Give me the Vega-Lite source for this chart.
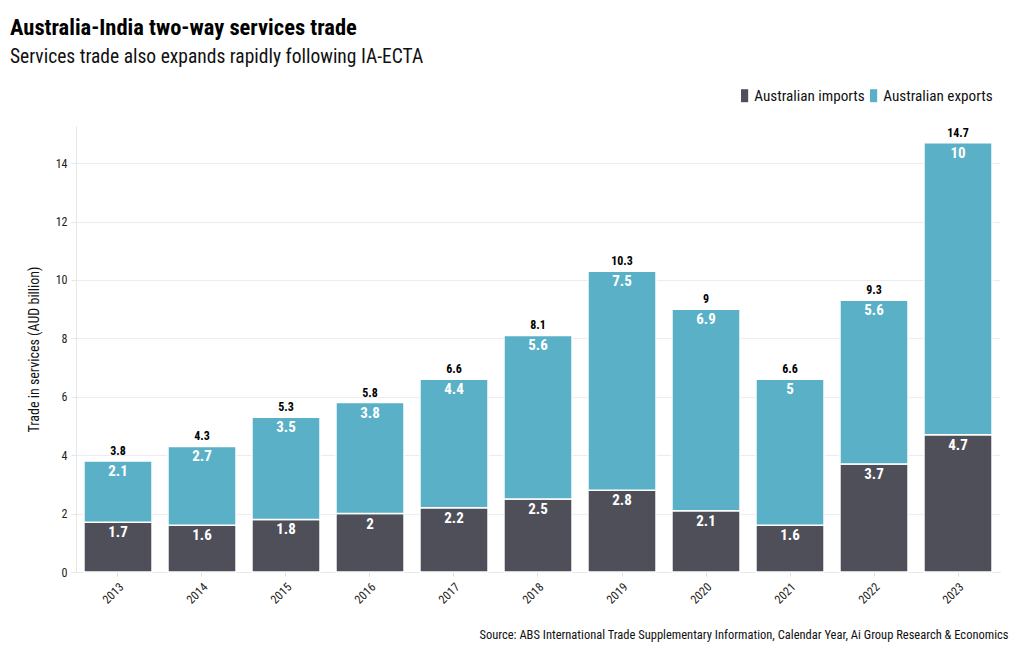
{
  "$schema": "https://vega.github.io/schema/vega-lite/v6.json",
  "width": 924,
  "height": 446,
  "padding": {"left": 10, "right": 8, "top": 17, "bottom": 8},
  "background": "white",
  "title": {
    "text": "Australia-India two-way services trade",
    "subtitle": "Services trade also expands rapidly following IA-ECTA",
    "anchor": "start",
    "frame": "group",
    "dx": -66,
    "font": "Roboto Condensed, Liberation Sans Narrow, Roboto, sans-serif",
    "fontSize": 22.5,
    "fontWeight": "bold",
    "color": "#000000",
    "subtitleFont": "Roboto Condensed, Liberation Sans Narrow, Roboto, sans-serif",
    "subtitleFontSize": 19.5,
    "subtitleColor": "#111111",
    "subtitlePadding": 8,
    "offset": 22
  },
  "config": {
    "font": "Roboto Condensed, Liberation Sans Narrow, Roboto, sans-serif",
    "view": {"stroke": null},
    "axis": {"labelFont": "Roboto Condensed, Liberation Sans Narrow, Roboto, sans-serif", "titleFont": "Roboto Condensed, Liberation Sans Narrow, Roboto, sans-serif"}
  },
  "data": {
    "values": [
      {"year": "2013", "series": "Australian imports", "value": 1.7},
      {"year": "2013", "series": "Australian exports", "value": 2.1},
      {"year": "2014", "series": "Australian imports", "value": 1.6},
      {"year": "2014", "series": "Australian exports", "value": 2.7},
      {"year": "2015", "series": "Australian imports", "value": 1.8},
      {"year": "2015", "series": "Australian exports", "value": 3.5},
      {"year": "2016", "series": "Australian imports", "value": 2.0},
      {"year": "2016", "series": "Australian exports", "value": 3.8},
      {"year": "2017", "series": "Australian imports", "value": 2.2},
      {"year": "2017", "series": "Australian exports", "value": 4.4},
      {"year": "2018", "series": "Australian imports", "value": 2.5},
      {"year": "2018", "series": "Australian exports", "value": 5.6},
      {"year": "2019", "series": "Australian imports", "value": 2.8},
      {"year": "2019", "series": "Australian exports", "value": 7.5},
      {"year": "2020", "series": "Australian imports", "value": 2.1},
      {"year": "2020", "series": "Australian exports", "value": 6.9},
      {"year": "2021", "series": "Australian imports", "value": 1.6},
      {"year": "2021", "series": "Australian exports", "value": 5.0},
      {"year": "2022", "series": "Australian imports", "value": 3.7},
      {"year": "2022", "series": "Australian exports", "value": 5.6},
      {"year": "2023", "series": "Australian imports", "value": 4.7},
      {"year": "2023", "series": "Australian exports", "value": 10.0}
    ]
  },
  "encoding": {
    "x": {
      "field": "year",
      "type": "ordinal",
      "scale": {"paddingInner": 0.19, "paddingOuter": 0.095},
      "axis": {
        "labelAngle": -45,
        "labelFontSize": 12,
        "labelColor": "#222222",
        "labelPadding": 5,
        "domainColor": "#e6e6e6",
        "tickColor": "#dddddd",
        "tickSize": 4,
        "title": "Source: ABS International Trade Supplementary Information, Calendar Year, Ai Group Research & Economics",
        "titleFontSize": 12.5,
        "titleFontWeight": "normal",
        "titleColor": "#111111",
        "titleAlign": "right",
        "titleX": 932,
        "titlePadding": 23
      }
    }
  },
  "layer": [
    {
      "mark": {"type": "bar", "stroke": "white", "strokeWidth": 1.5, "opacity": 1},
      "encoding": {
        "y": {
          "field": "value",
          "type": "quantitative",
          "stack": "zero",
          "scale": {"domain": [0, 15.27], "nice": false},
          "axis": {
            "values": [0, 2, 4, 6, 8, 10, 12, 14],
            "title": "Trade in services (AUD billion)",
            "titleFontSize": 14,
            "titleFontWeight": "normal",
            "titleColor": "#111111",
            "titlePadding": 14,
            "labelFontSize": 12,
            "labelColor": "#222222",
            "gridColor": "#ececec",
            "domainColor": "#e6e6e6",
            "tickColor": "#e6e6e6",
            "tickSize": 5,
            "labelPadding": 4
          }
        },
        "color": {
          "field": "series",
          "type": "nominal",
          "scale": {"domain": ["Australian imports", "Australian exports"], "range": ["#4f4f59", "#5ab1c7"]},
          "legend": {
            "title": null,
            "orient": "none",
            "legendX": 661,
            "legendY": -38,
            "direction": "horizontal",
            "symbolType": "M-0.55,-1H0.55V1H-0.55Z",
            "symbolSize": 169,
            "symbolStrokeWidth": 0,
            "labelFontSize": 15.2,
            "labelColor": "#111111",
            "columnPadding": 1,
            "labelOffset": 2
          }
        },
        "order": {"field": "series", "sort": "descending"}
      }
    },
    {
      "mark": {"type": "text", "baseline": "top", "dy": 3, "color": "white", "fontWeight": "bold", "fontSize": 15},
      "encoding": {
        "y": {"field": "value", "type": "quantitative", "stack": "zero"},
        "text": {"field": "value", "type": "quantitative", "format": ".1~f"},
        "detail": {"field": "series"},
        "order": {"field": "series", "sort": "descending"}
      }
    },
    {
      "mark": {"type": "text", "baseline": "bottom", "dy": -3, "color": "black", "fontWeight": "bold", "fontSize": 12},
      "encoding": {
        "y": {"aggregate": "sum", "field": "value", "type": "quantitative"},
        "text": {"aggregate": "sum", "field": "value", "type": "quantitative", "format": ".1~f"}
      }
    }
  ]
}
